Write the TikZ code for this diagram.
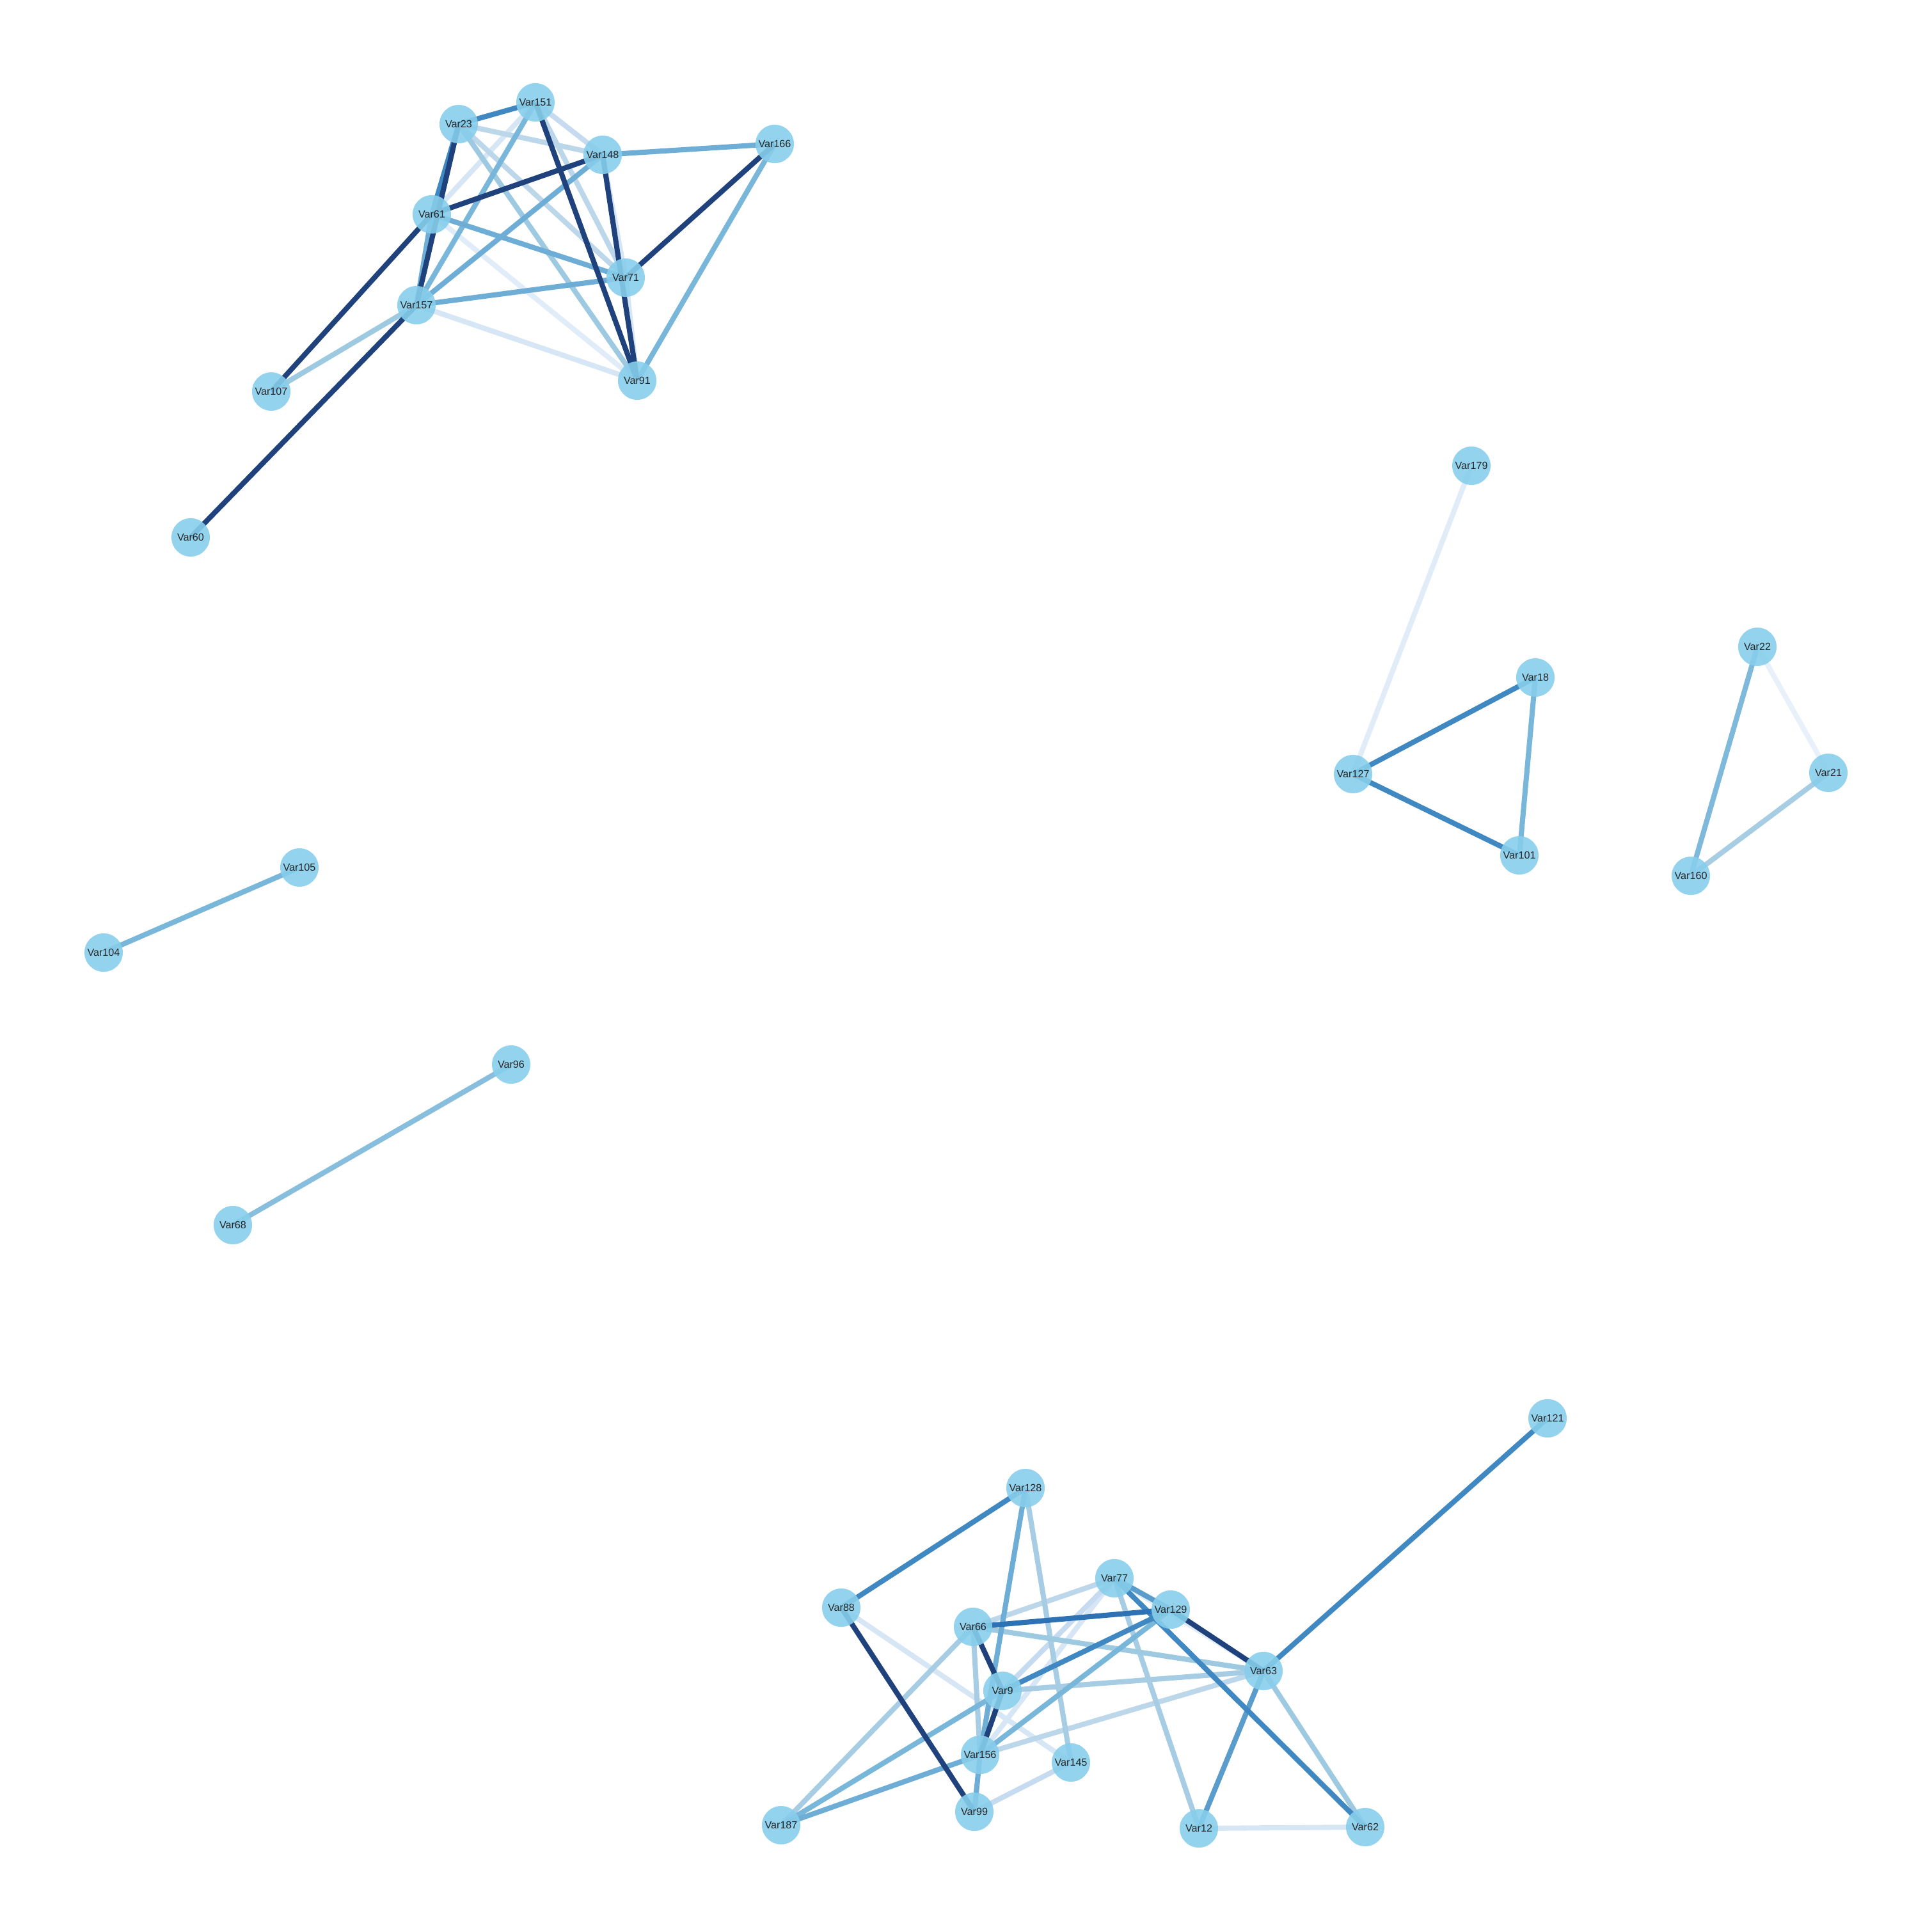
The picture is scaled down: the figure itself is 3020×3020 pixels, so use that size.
\documentclass[tikz,border=0pt]{standalone}
\usepackage{fontspec}
\setmainfont{Liberation Sans}
\usetikzlibrary{backgrounds}
\definecolor{nodec}{RGB}{135,206,235}
\definecolor{textc}{RGB}{38,38,38}
\definecolor{eD}{RGB}{31,66,124}
\definecolor{eM}{RGB}{64,136,194}
\definecolor{eMd}{RGB}{45,114,181}
\definecolor{eMa}{RGB}{90,156,204}
\definecolor{eML}{RGB}{110,174,214}
\definecolor{eMLb}{RGB}{120,182,218}
\definecolor{eL}{RGB}{158,202,225}
\definecolor{eLa}{RGB}{166,205,227}
\definecolor{eL2}{RGB}{189,215,234}
\definecolor{eL3}{RGB}{198,219,239}
\definecolor{eVL}{RGB}{214,230,244}
\definecolor{eVL2}{RGB}{224,236,248}
\definecolor{eVL3}{RGB}{232,241,250}
\tikzset{
  vnode/.style={circle, fill=nodec, fill opacity=0.9, text opacity=1, minimum size=0.6cm, inner sep=0pt, font=\fontsize{4.6}{5}\selectfont, text=textc},
  edge/.style={line width=2.3pt}
}
\begin{document}
\begin{tikzpicture}[x=0.01cm,y=-0.01cm]
\useasboundingbox (0,0) rectangle (3020,3020);
% top-left cluster
\node[vnode] (v151) at (837,160) {Var151};
\node[vnode] (v23) at (717,194) {Var23};
\node[vnode] (v148) at (942,242) {Var148};
\node[vnode] (v166) at (1211,225) {Var166};
\node[vnode] (v61) at (675,335) {Var61};
\node[vnode] (v71) at (978,434) {Var71};
\node[vnode] (v157) at (651,477) {Var157};
\node[vnode] (v91) at (996,595) {Var91};
\node[vnode] (v107) at (424,612) {Var107};
\node[vnode] (v60) at (298,840) {Var60};
% right clusters
\node[vnode] (v179) at (2300,728) {Var179};
\node[vnode] (v18) at (2400,1059) {Var18};
\node[vnode] (v127) at (2115,1210) {Var127};
\node[vnode] (v101) at (2375,1337) {Var101};
\node[vnode] (v22) at (2747,1011) {Var22};
\node[vnode] (v21) at (2858,1208) {Var21};
\node[vnode] (v160) at (2643,1369) {Var160};
% pairs on the left
\node[vnode] (v105) at (468,1356) {Var105};
\node[vnode] (v104) at (162,1489) {Var104};
\node[vnode] (v96) at (799,1664) {Var96};
\node[vnode] (v68) at (364,1915) {Var68};
% bottom cluster
\node[vnode] (v121) at (2419,2217) {Var121};
\node[vnode] (v128) at (1603,2326) {Var128};
\node[vnode] (v88) at (1315,2513) {Var88};
\node[vnode] (v77) at (1742,2467) {Var77};
\node[vnode] (v129) at (1830,2516) {Var129};
\node[vnode] (v66) at (1521,2543) {Var66};
\node[vnode] (v63) at (1975,2612) {Var63};
\node[vnode] (v9) at (1567,2643) {Var9};
\node[vnode] (v156) at (1532,2743) {Var156};
\node[vnode] (v145) at (1674,2755) {Var145};
\node[vnode] (v99) at (1523,2832) {Var99};
\node[vnode] (v187) at (1221,2853) {Var187};
\node[vnode] (v12) at (1874,2858) {Var12};
\node[vnode] (v62) at (2134,2856) {Var62};
\begin{pgfonlayer}{background}
% top-left cluster edges
\draw[edge, eVL2] (v61.center) -- (v91.center);
\draw[edge, eVL] (v157.center) -- (v91.center);
\draw[edge, eVL] (v151.center) -- (v61.center);
\draw[edge, eVL] (v148.center) -- (v71.center);
\draw[edge, eVL] (v71.center) -- (v91.center);
\draw[edge, eL3] (v151.center) -- (v148.center);
\draw[edge, eL2] (v23.center) -- (v148.center);
\draw[edge, eL2] (v23.center) -- (v71.center);
\draw[edge, eL2] (v151.center) -- (v71.center);
\draw[edge, eL] (v23.center) -- (v91.center);
\draw[edge, eL] (v157.center) -- (v107.center);
\draw[edge, eMLb] (v151.center) -- (v157.center);
\draw[edge, eML] (v148.center) -- (v166.center);
\draw[edge, eML] (v148.center) -- (v157.center);
\draw[edge, eML] (v61.center) -- (v71.center);
\draw[edge, eML] (v61.center) -- (v157.center);
\draw[edge, eML] (v157.center) -- (v71.center);
\draw[edge, eMLb] (v166.center) -- (v91.center);
\draw[edge, eM] (v23.center) -- (v151.center);
\draw[edge, eM] (v23.center) -- (v61.center);
\draw[edge, eD] (v23.center) -- (v157.center);
\draw[edge, eD] (v151.center) -- (v91.center);
\draw[edge, eD] (v148.center) -- (v61.center);
\draw[edge, eD] (v148.center) -- (v91.center);
\draw[edge, eD] (v61.center) -- (v107.center);
\draw[edge, eD] (v157.center) -- (v60.center);
\draw[edge, eD] (v166.center) -- (v71.center);
% right clusters
\draw[edge, eVL2] (v179.center) -- (v127.center);
\draw[edge, eM] (v127.center) -- (v18.center);
\draw[edge, eM] (v127.center) -- (v101.center);
\draw[edge, eMLb] (v18.center) -- (v101.center);
\draw[edge, eVL3] (v22.center) -- (v21.center);
\draw[edge, eMLb!85!eL] (v22.center) -- (v160.center);
\draw[edge, eLa] (v21.center) -- (v160.center);
% pairs
\draw[edge, eMLb] (v105.center) -- (v104.center);
\draw[edge, eMLb!60!eL] (v96.center) -- (v68.center);
% bottom cluster
\draw[edge, eVL2] (v77.center) -- (v63.center);
\draw[edge, eVL] (v88.center) -- (v145.center);
\draw[edge, eVL] (v77.center) -- (v156.center);
\draw[edge, eVL] (v12.center) -- (v62.center);
\draw[edge, eL3] (v77.center) -- (v9.center);
\draw[edge, eL3] (v99.center) -- (v145.center);
\draw[edge, eL2] (v77.center) -- (v66.center);
\draw[edge, eL2] (v156.center) -- (v63.center);
\draw[edge, eLa] (v128.center) -- (v145.center);
\draw[edge, eLa] (v77.center) -- (v12.center);
\draw[edge, eLa] (v66.center) -- (v156.center);
\draw[edge, eLa] (v66.center) -- (v187.center);
\draw[edge, eLa] (v9.center) -- (v63.center);
\draw[edge, eL] (v66.center) -- (v63.center);
\draw[edge, eL] (v63.center) -- (v62.center);
\draw[edge, eMLb] (v129.center) -- (v156.center);
\draw[edge, eMLb] (v9.center) -- (v187.center);
\draw[edge, eML] (v156.center) -- (v187.center);
\draw[edge, eML] (v156.center) -- (v99.center);
\draw[edge, eML] (v128.center) -- (v156.center);
\draw[edge, eMa] (v77.center) -- (v129.center);
\draw[edge, eMa] (v63.center) -- (v12.center);
\draw[edge, eM] (v128.center) -- (v88.center);
\draw[edge, eM] (v77.center) -- (v62.center);
\draw[edge, eM] (v129.center) -- (v9.center);
\draw[edge, eM] (v63.center) -- (v121.center);
\draw[edge, eMd] (v129.center) -- (v66.center);
\draw[edge, eD] (v88.center) -- (v99.center);
\draw[edge, eD] (v129.center) -- (v63.center);
\draw[edge, eD] (v66.center) -- (v9.center);
\draw[edge, eD] (v9.center) -- (v156.center);
\end{pgfonlayer}
\end{tikzpicture}
\end{document}
